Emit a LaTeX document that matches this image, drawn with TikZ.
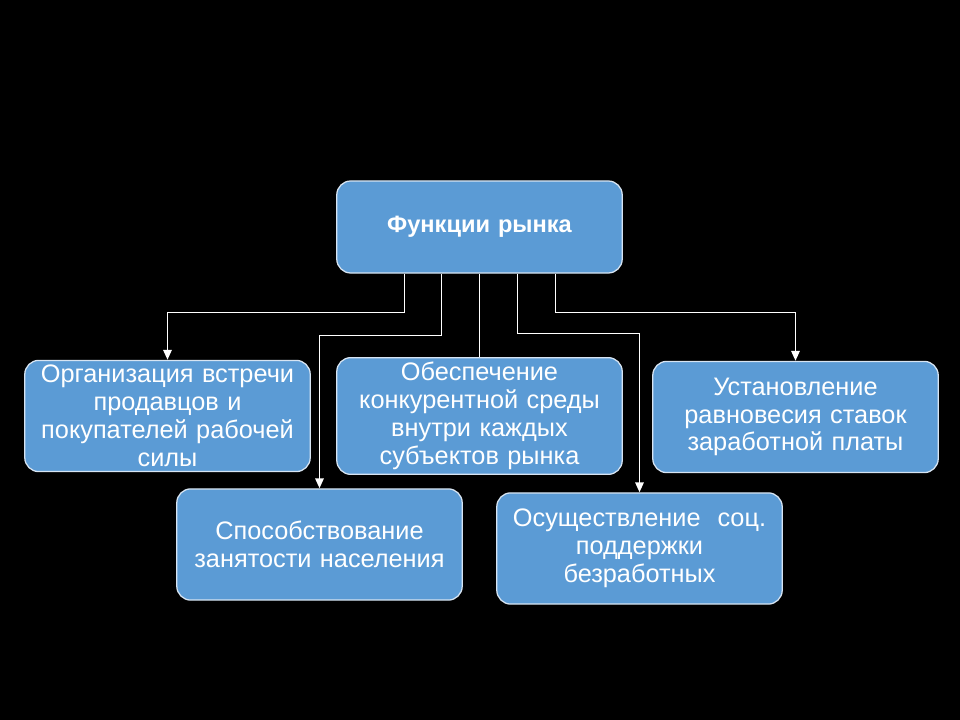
\documentclass[tikz,border=0pt]{standalone}
\usepackage{fontspec}
\setmainfont{Liberation Sans}
\usepackage{tikz}
\usetikzlibrary{arrows.meta,calc}
\definecolor{boxblue}{RGB}{91,155,213}
\definecolor{boxline}{RGB}{215,228,242}

\begin{document}
\begin{tikzpicture}[x=0.025cm, y=-0.025cm,
		fbox/.style={draw=boxline, line width=0.9pt, fill=boxblue, rounded corners=0.35cm,
			minimum width=7.05cm, minimum height=2.78cm, text width=6.9cm, align=center,
			text=white, font=\fontsize{18}{19.8}\selectfont},
		link/.style={draw=white, line width=1.2pt},
		arr/.style={link, -{Triangle[width=6pt,length=7pt]}}]
	\fill[black] (0,0) rectangle (960,720);
	\useasboundingbox (0,0) rectangle (960,720);

	\node[fbox, minimum height=2.3cm, font=\fontsize{16.8}{19}\selectfont\bfseries] (root) at (479.5,227) {Функции рынка};
	\node[fbox] (node1) at (167.5,416) {Организация встречи\\продавцов и\\покупателей рабочей\\силы};
	\node[fbox] (node2) at (479.5,416) {Обеспечение\\конкурентной среды\\внутри каждых\\субъектов рынка};
	\node[fbox] (node3) at (795.5,417) {Установление\\равновесия ставок\\заработной платы};
	\node[fbox] (node4) at (319.5,544.5) {Способствование\\занятости населения};
	\node[fbox] (node5) at (639.5,548.5) {Осуществление~ соц.\\поддержки\\безработных};

	\draw [arr] ($(root.south)+(-75,0)$) -- ++(0,39) -| (node1.north);
	\draw [arr] ($(root.south)+(-38,0)$) -- ++(0,62) -| (node4.north);
	\draw [link] (root.south) -- (node2.north);
	\draw [arr] ($(root.south)+(38,0)$) -- ++(0,60) -| (node5.north);
	\draw [arr] ($(root.south)+(76,0)$) -- ++(0,39) -| (node3.north);
\end{tikzpicture}
\end{document}
